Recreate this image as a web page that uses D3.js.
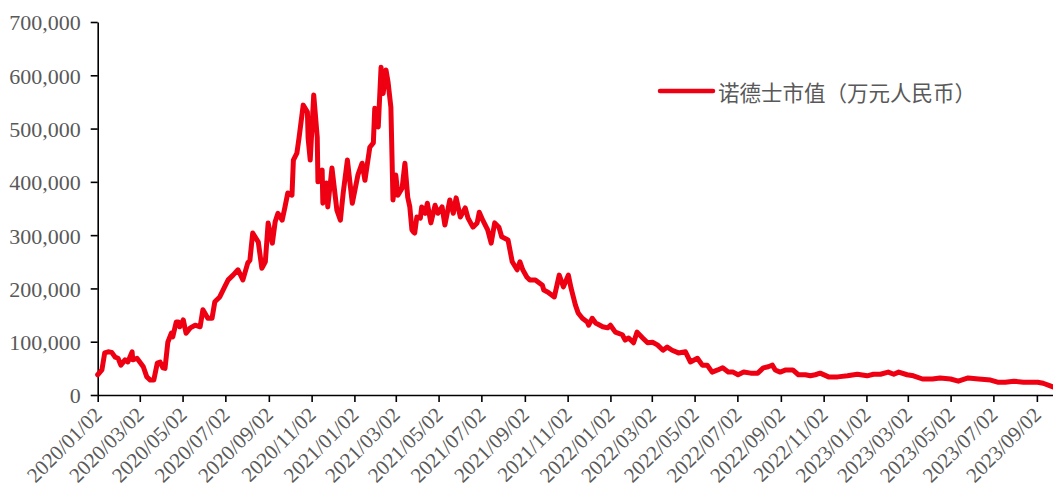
<!DOCTYPE html>
<html>
<head>
<meta charset="utf-8">
<script src="https://cdn.jsdelivr.net/npm/d3@7"></script>
<style>
  body { margin: 0; background: #fff; }
  svg { display: block; }
</style>
</head>
<body>
<svg id="chart"></svg>
<script>
// 诺德士市值（万元人民币）
const dates = [
  "2020-01-02","2020-01-08","2020-01-12","2020-01-17","2020-01-22","2020-01-27","2020-01-31",
  "2020-02-04","2020-02-10","2020-02-14","2020-02-20","2020-02-21","2020-02-27","2020-03-02",
  "2020-03-07","2020-03-12","2020-03-17","2020-03-22","2020-03-27","2020-03-31","2020-04-04",
  "2020-04-07","2020-04-11","2020-04-16","2020-04-18","2020-04-23","2020-04-26","2020-04-28",
  "2020-05-03","2020-05-07","2020-05-13","2020-05-20","2020-05-27","2020-05-31","2020-06-07",
  "2020-06-13","2020-06-17","2020-06-24","2020-07-01","2020-07-06","2020-07-13","2020-07-20",
  "2020-07-27","2020-08-03","2020-08-06","2020-08-10","2020-08-18","2020-08-23","2020-08-28",
  "2020-09-01","2020-09-07","2020-09-11","2020-09-15","2020-09-21","2020-09-25","2020-09-29",
  "2020-10-05","2020-10-07","2020-10-12","2020-10-15","2020-10-21","2020-10-27","2020-10-28",
  "2020-10-31","2020-11-05","2020-11-10","2020-11-11","2020-11-17","2020-11-18","2020-11-23",
  "2020-11-25","2020-12-01","2020-12-08","2020-12-13","2020-12-17","2020-12-23","2020-12-30",
  "2021-01-07","2021-01-13","2021-01-17","2021-01-24","2021-01-29","2021-01-31","2021-02-05",
  "2021-02-09","2021-02-12","2021-02-16","2021-02-19","2021-02-23","2021-02-26","2021-03-02",
  "2021-03-05","2021-03-11","2021-03-15","2021-03-19","2021-03-22","2021-03-25","2021-03-27",
  "2021-03-29","2021-04-01","2021-04-06","2021-04-08","2021-04-13","2021-04-16","2021-04-21",
  "2021-04-27","2021-05-01","2021-05-07","2021-05-11","2021-05-18","2021-05-23","2021-05-27",
  "2021-06-02","2021-06-09","2021-06-13","2021-06-20","2021-06-26","2021-06-29","2021-07-04",
  "2021-07-11","2021-07-16","2021-07-21","2021-07-27","2021-07-31","2021-08-09","2021-08-15",
  "2021-08-22","2021-08-26","2021-08-30","2021-09-05","2021-09-09","2021-09-17","2021-09-27",
  "2021-09-29","2021-10-05","2021-10-14","2021-10-21","2021-10-27","2021-11-03","2021-11-07",
  "2021-11-13","2021-11-17","2021-11-23","2021-11-30","2021-12-02","2021-12-07","2021-12-12",
  "2021-12-22","2021-12-29","2022-01-02","2022-01-09","2022-01-19","2022-01-23","2022-01-28",
  "2022-02-04","2022-02-09","2022-02-17","2022-02-24","2022-03-03","2022-03-10","2022-03-18",
  "2022-03-24","2022-03-31","2022-04-09","2022-04-19","2022-04-26","2022-05-06","2022-05-13",
  "2022-05-20","2022-05-27","2022-06-04","2022-06-11","2022-06-19","2022-06-26","2022-07-03",
  "2022-07-11","2022-07-21","2022-07-31","2022-08-08","2022-08-15","2022-08-21","2022-08-25",
  "2022-09-01","2022-09-09","2022-09-19","2022-09-27","2022-10-07","2022-10-14","2022-10-21",
  "2022-10-28","2022-11-09","2022-11-22","2022-12-06","2022-12-20","2023-01-03","2023-01-12",
  "2023-01-22","2023-02-02","2023-02-10","2023-02-17","2023-03-01","2023-03-10","2023-03-23",
  "2023-04-06","2023-04-17","2023-05-02","2023-05-13","2023-05-27","2023-06-11","2023-06-28",
  "2023-07-08","2023-07-19","2023-07-31","2023-08-14","2023-09-03","2023-09-11","2023-09-21",
  "2023-09-25"
]
const marketCap = [
  38000,47000,79000,81000,80000,71000,69000,
  56000,66000,62000,81000,66000,69000,62000,
  53000,34000,28000,28000,60000,62000,51000,
  50000,99000,116000,109000,137000,137000,128000,
  141000,116000,126000,131000,128000,160000,144000,
  144000,175000,184000,203000,216000,225000,235000,
  216000,248000,253000,304000,287000,238000,250000,
  323000,285000,325000,341000,328000,353000,379000,
  375000,441000,454000,482000,544000,531000,482000,
  441000,563000,484000,400000,422000,360000,398000,
  353000,426000,347000,328000,379000,441000,360000,
  413000,435000,403000,465000,473000,538000,503000,
  615000,566000,610000,587000,540000,366000,413000,
  375000,388000,435000,371000,353000,310000,306000,
  304000,334000,332000,353000,341000,360000,323000,
  356000,341000,353000,319000,366000,341000,370000,
  334000,351000,332000,315000,323000,343000,328000,
  310000,285000,323000,315000,297000,291000,250000,
  235000,250000,235000,221000,216000,216000,206000,
  197000,193000,184000,225000,203000,225000,200000,
  169000,154000,144000,137000,131000,144000,135000,
  128000,126000,131000,118000,113000,103000,107000,
  98000,118000,107000,98000,99000,94000,84000,
  90000,84000,79000,81000,62000,69000,56000,
  56000,43000,47000,51000,43000,43000,38000,
  43000,41000,41000,51000,53000,56000,47000,
  43000,47000,47000,38000,38000,36000,38000,
  41000,34000,34000,36000,39000,36000,39000,
  39000,43000,39000,43000,38000,36000,30000,
  30000,32000,30000,26000,32000,30000,28000,
  24000,24000,26000,24000,24000,22000,17000,
  15000
]
const xTickLabels = [
  "2020/01/02","2020/03/02","2020/05/02","2020/07/02","2020/09/02","2020/11/02",
  "2021/01/02","2021/03/02","2021/05/02","2021/07/02","2021/09/02","2021/11/02",
  "2022/01/02","2022/03/02","2022/05/02","2022/07/02","2022/09/02","2022/11/02",
  "2023/01/02","2023/03/02","2023/05/02","2023/07/02","2023/09/02"
]
const yTicks = [0,100000,200000,300000,400000,500000,600000,700000]
const seriesName = "诺德士市值（万元人民币）"

const width = 1053
const height = 490
const plotLeft = 97.7
const plotRight = 1053
const plotTop = 22
const plotBottom = 395
const red = "#ee0012"
const grey = "#595959"

const parseDay = d3.utcParse("%Y-%m-%d")
const parseTick = d3.utcParse("%Y/%m/%d")
const data = dates.map((d,i)=>({date: parseDay(d), value: marketCap[i]}))

const svg = d3.select("#chart")
  .attr("width",width)
  .attr("height",height)

const xScale = d3.scaleUtc()
  .domain([parseDay("2020-01-02"), parseDay("2023-09-25")])
  .range([plotLeft,plotRight])

const yScale = d3.scaleLinear().domain([0,700000]).range([plotBottom,plotTop])

// y axis
const yAxis = d3.axisLeft(yScale).tickValues(yTicks).tickFormat(d3.format(",")).tickSize(7).tickSizeOuter(0).tickPadding(10)
const gy = svg.append("g")
  .attr("transform",`translate(${plotLeft},0)`)
  .call(yAxis)
gy.selectAll("path, line").attr("stroke","#000").attr("stroke-width",1.6)
gy.selectAll("text")
  .attr("dy","0.36em")
  .style("font-family","'Liberation Serif', 'Times New Roman', serif")
  .style("font-size","22px")
  .attr("fill",grey)

// x axis
const xAxis = d3.axisBottom(xScale).tickValues(xTickLabels.map(parseTick)).tickFormat(d3.utcFormat("%Y/%m/%d")).tickSize(7).tickSizeOuter(0)
const gx = svg.append("g")
  .attr("transform",`translate(0,${plotBottom})`)
  .call(xAxis)
gx.selectAll("path, line").attr("stroke","#000").attr("stroke-width",1.6)
gx.selectAll("text")
  .attr("x",0).attr("y",0).attr("dy",0)
  .attr("transform","translate(5,21) rotate(-45)")
  .attr("text-anchor","end")
  .style("font-family","'Liberation Serif', 'Times New Roman', serif")
  .style("font-size","21px")
  .attr("fill",grey)

// the line
const line = d3.line().x(d=>xScale(d.date)).y(d=>yScale(d.value))
svg.append("path")
  .datum(data)
  .attr("d",line)
  .attr("fill","none")
  .attr("stroke",red)
  .attr("stroke-width",5)
  .attr("stroke-linejoin","round")
  .attr("stroke-linecap","round")

// legend
const legend = svg.append("g").attr("transform","translate(660,91)")
legend.append("line")
  .attr("x1",0).attr("x2",53).attr("y1",0).attr("y2",0)
  .attr("stroke",red).attr("stroke-width",4.5).attr("stroke-linecap","round")
legend.append("text")
  .attr("x",58).attr("y",0)
  .attr("dominant-baseline","central")
  .style("font-family","'Noto Sans CJK SC', sans-serif")
  .style("font-size","21.5px")
  .attr("fill",grey)
  .text(seriesName)
</script>
</body>
</html>
